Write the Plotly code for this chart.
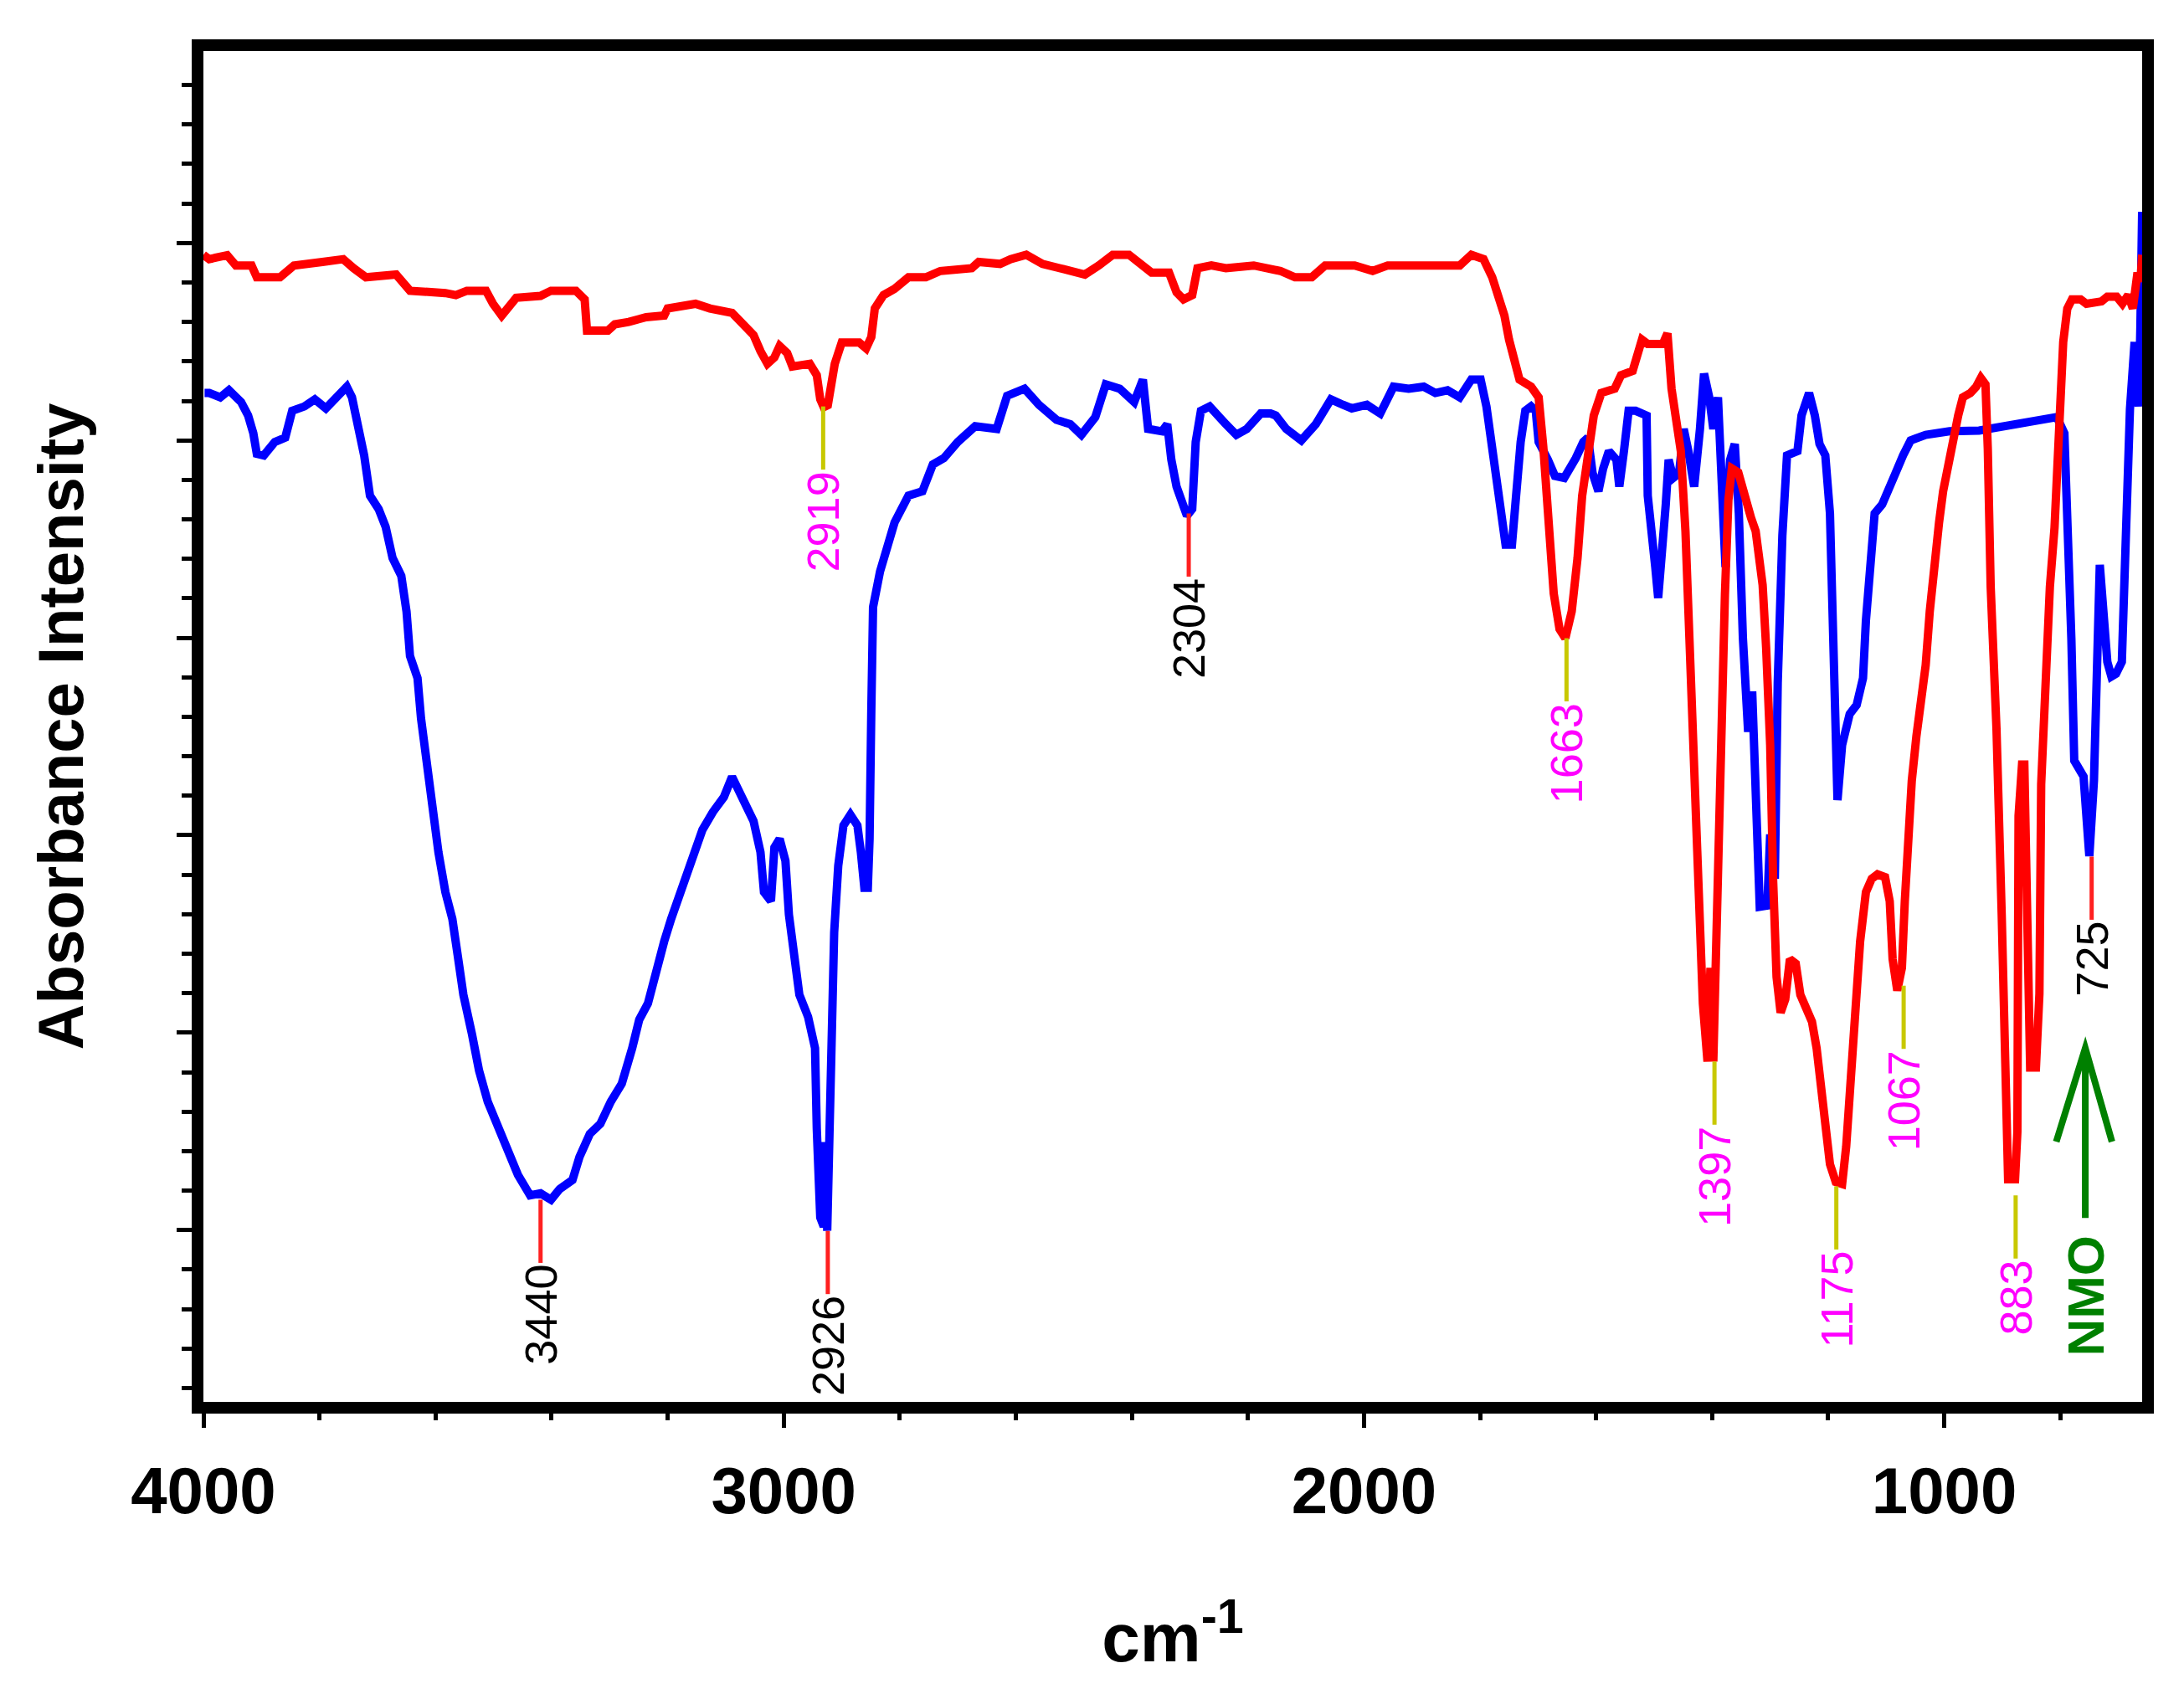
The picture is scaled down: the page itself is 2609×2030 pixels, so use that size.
"""FTIR absorbance spectra (two samples) with peak labels, drawn with Plotly."""

import plotly.graph_objects as go

# ---- spectrum data (wavenumber cm-1, intensity a.u.) ----
red_wn = [
    4000, 3990, 3959, 3944, 3917, 3908, 3868, 3844, 3795, 3759, 3741, 3720, 3668, 3644,
    3583, 3565, 3546, 3513, 3501, 3486, 3461, 3419, 3401, 3358, 3343, 3339, 3303, 3291,
    3267, 3237, 3206, 3200, 3152, 3127, 3089, 3070, 3052, 3040, 3028, 3016, 3007, 2994,
    2985, 2955, 2943, 2937, 2931, 2924, 2919, 2912, 2900, 2870, 2858, 2849, 2843, 2828,
    2809, 2785, 2755, 2730, 2676, 2664, 2627, 2609, 2582, 2554, 2524, 2481, 2457, 2433,
    2405, 2384, 2366, 2336, 2323, 2311, 2296, 2287, 2263, 2238, 2190, 2144, 2119, 2090,
    2067, 2016, 1985, 1959, 1918, 1835, 1815, 1794, 1779, 1768, 1758, 1750, 1740, 1732,
    1712, 1699, 1691, 1683, 1673, 1663, 1653, 1642, 1632, 1624, 1614, 1604, 1591, 1568,
    1557, 1537, 1521, 1511, 1485, 1477, 1470, 1462, 1454, 1446, 1439, 1431, 1423, 1416,
    1408, 1403, 1398, 1392, 1385, 1378, 1372, 1366, 1355, 1343, 1333, 1325, 1318, 1313,
    1307, 1300, 1295, 1289, 1282, 1274, 1266, 1256, 1248, 1238, 1228, 1220, 1212, 1205,
    1197, 1187, 1176, 1169, 1161, 1153, 1145, 1135, 1125, 1115, 1102, 1094, 1089, 1081,
    1073, 1068, 1063, 1056, 1048, 1040, 1032, 1025, 1017, 1009, 1002, 994, 986, 976,
    968, 955, 945, 937, 929, 925, 920, 910, 901, 894, 890, 878, 874, 872, 866,
    862, 856, 852, 842, 836, 833, 825, 818, 810, 801, 795, 788, 780, 765,
    755, 729, 719, 703, 693, 683, 675, 667, 662, 659,
]
red_abs = [
    29.21, 29.1, 29.2, 28.94, 28.94, 28.64, 28.64, 28.94, 29.03, 29.1, 28.87, 28.64, 28.71, 28.3,
    28.24, 28.19, 28.3, 28.3, 27.97, 27.67, 28.12, 28.17, 28.3, 28.3, 28.08, 27.29, 27.29, 27.45,
    27.51, 27.63, 27.67, 27.85, 27.97, 27.85, 27.74, 27.45, 27.18, 26.77, 26.45, 26.61, 26.9, 26.72,
    26.38, 26.45, 26.16, 25.55, 25.35, 25.4, 25.9, 26.45, 26.99, 26.99, 26.84, 27.13, 27.85, 28.19,
    28.35, 28.64, 28.64, 28.8, 28.87, 29.03, 28.98, 29.1, 29.21, 28.98, 28.87, 28.71, 28.94, 29.21,
    29.21, 28.94, 28.76, 28.76, 28.26, 28.08, 28.19, 28.87, 28.94, 28.87, 28.94, 28.8, 28.64, 28.64,
    28.94, 28.94, 28.8, 28.94, 28.94, 28.94, 29.21, 29.1, 28.64, 28.19, 27.67, 27.06, 26.5, 26.05,
    25.87, 25.6, 24.35, 22.43, 20.63, 19.73, 19.5, 20.18, 21.53, 23.11, 24.24, 25.14, 25.71, 25.82,
    26.16, 26.27, 27.06, 26.95, 26.95, 27.22, 25.82, 24.92, 24.24, 22.21, 19.5, 17.02, 13.86, 10.25,
    8.78, 11.15, 8.78, 12.95, 16.34, 20.6, 23.0, 23.8, 23.7, 23.0, 22.55, 22.21, 21.53, 20.85,
    19.27, 16.79, 13.41, 10.92, 10.02, 10.36, 11.37, 11.26, 10.47, 10.13, 9.79, 9.12, 8.21, 7.08,
    6.18, 5.73, 5.68, 6.63, 8.21, 10.02, 11.82, 13.07, 13.41, 13.52, 13.45, 12.84, 11.37, 10.58,
    11.15, 12.84, 14.53, 15.89, 17.02, 17.92, 18.82, 20.18, 21.53, 22.43, 23.22, 23.9, 24.58, 25.14,
    25.6, 25.71, 25.87, 26.09, 25.93, 24.3, 20.8, 17.2, 12.5, 7.0, 5.8, 5.8, 7.0, 15.0, 16.3,
    16.3, 10.5, 8.63, 8.63, 10.5, 15.8, 19.2, 20.8, 22.3, 24.9, 27.0, 27.85, 28.08, 28.08,
    27.97, 28.03, 28.15, 28.15, 27.97, 28.19, 27.85, 28.76, 28.53, 29.21,
]

blue_wn = [
    3998, 3990, 3971, 3956, 3935, 3923, 3914, 3908, 3896, 3877, 3859, 3847, 3826, 3808,
    3789, 3771, 3753, 3744, 3735, 3723, 3713, 3698, 3686, 3674, 3659, 3650, 3644, 3631,
    3625, 3616, 3607, 3595, 3583, 3571, 3562, 3552, 3537, 3525, 3510, 3492, 3474, 3458,
    3437, 3419, 3401, 3386, 3364, 3352, 3334, 3316, 3298, 3279, 3261, 3249, 3234, 3219,
    3206, 3194, 3176, 3158, 3140, 3122, 3103, 3089, 3070, 3052, 3040, 3034, 3022, 3016,
    3007, 2997, 2991, 2982, 2973, 2958, 2946, 2943, 2937, 2931, 2928, 2925, 2919, 2913,
    2906, 2897, 2885, 2873, 2867, 2861, 2855, 2852, 2849, 2846, 2834, 2821, 2809, 2785,
    2761, 2743, 2724, 2700, 2670, 2633, 2615, 2585, 2560, 2530, 2506, 2487, 2463, 2445,
    2421, 2396, 2381, 2372, 2348, 2339, 2332, 2323, 2311, 2305, 2296, 2290, 2281, 2266,
    2238, 2220, 2202, 2178, 2161, 2152, 2134, 2108, 2083, 2057, 2036, 2021, 1995, 1972,
    1949, 1923, 1897, 1877, 1856, 1835, 1815, 1799, 1789, 1781, 1771, 1763, 1756, 1745,
    1738, 1730, 1722, 1712, 1704, 1699, 1683, 1671, 1655, 1645, 1635, 1622, 1614, 1606,
    1596, 1588, 1578, 1565, 1560, 1552, 1544, 1532, 1513, 1511, 1506, 1498, 1493, 1485,
    1480, 1475, 1467, 1457, 1449, 1441, 1431, 1421, 1414, 1405, 1398, 1390, 1382, 1377,
    1374, 1369, 1361, 1354, 1347, 1338, 1331, 1325, 1318, 1305, 1300, 1292, 1287, 1279,
    1271, 1253, 1246, 1233, 1223, 1215, 1205, 1197, 1191, 1184, 1176, 1163, 1151, 1140,
    1135, 1127, 1120, 1107, 1097, 1084, 1071, 1058, 1032, 991, 940, 894, 842, 806,
    793, 788, 781, 776, 768, 760, 750, 742, 732, 726, 719, 712, 704, 694,
    686, 680, 672, 665, 662, 659,
]
blue_abs = [
    25.71, 25.71, 25.6, 25.78, 25.48, 25.14, 24.69, 24.17, 24.13, 24.47, 24.58, 25.26, 25.37, 25.55,
    25.32, 25.6, 25.87, 25.6, 25.03, 24.13, 23.11, 22.77, 22.32, 21.53, 21.08, 20.18, 19.05, 18.49,
    17.47, 16.34, 15.21, 14.08, 13.07, 12.39, 11.49, 10.47, 9.46, 8.55, 7.76, 7.08, 6.41, 5.91,
    5.39, 5.44, 5.28, 5.55, 5.78, 6.36, 6.95, 7.2, 7.76, 8.22, 9.12, 9.84, 10.25, 11.15,
    11.82, 12.39, 13.18, 13.97, 14.65, 15.1, 15.48, 15.99, 15.44, 14.87, 14.08, 13.07, 12.84, 14.2,
    14.42, 13.86, 12.5, 11.37, 10.47, 9.91, 9.12, 7.08, 4.83, 4.6, 6.74, 4.49, 8.21, 12.05,
    13.74, 14.76, 15.03, 14.76, 14.08, 13.18, 13.18, 14.42, 17.7, 20.29, 21.19, 21.87, 22.43, 23.11,
    23.22, 23.9, 24.06, 24.47, 24.87, 24.8, 25.64, 25.82, 25.41, 25.03, 24.92, 24.65, 25.1, 25.93,
    25.82, 25.48, 26.05, 24.8, 24.74, 24.92, 24.02, 23.34, 22.77, 22.6, 22.77, 24.47, 25.26, 25.37,
    24.92, 24.65, 24.8, 25.19, 25.19, 25.14, 24.8, 24.51, 24.92, 25.55, 25.41, 25.32, 25.41, 25.19,
    25.87, 25.82, 25.87, 25.71, 25.78, 25.6, 26.05, 26.05, 25.37, 24.47, 23.56, 22.66, 21.87, 21.87,
    23.34, 24.47, 25.26, 25.37, 25.26, 24.47, 24.02, 23.61, 23.56, 23.79, 24.06, 24.47, 24.58, 23.68,
    23.22, 23.79, 24.24, 24.02, 23.34, 24.24, 25.26, 25.26, 25.14, 23.11, 22.21, 21.3, 20.52, 21.76,
    22.88, 24.02, 23.56, 23.68, 24.8, 24.24, 23.34, 24.8, 26.2, 25.6, 24.8, 25.6, 22.88, 21.3,
    22.89, 24.02, 24.42, 22.66, 19.5, 17.13, 18.15, 14.99, 12.7, 12.73, 14.53, 13.41, 18.37, 22.1,
    24.13, 24.24, 25.14, 25.71, 25.14, 24.42, 24.13, 22.66, 19.4, 15.4, 16.8, 17.58, 17.81, 18.49,
    19.95, 21.64, 22.66, 22.89, 23.29, 23.68, 24.13, 24.51, 24.65, 24.74, 24.76, 24.87, 24.99, 25.1,
    24.69, 22.7, 19.5, 16.4, 16.2, 16.0, 13.98, 15.9, 21.36, 20.2, 18.9, 18.53, 18.6, 18.9,
    22.9, 25.3, 27.0, 25.37, 27.4, 30.3,
]

# peak labels: text, position on the axis, intensity where the stem starts
blue_peak_text = ["3440", "2926", "2304", "725"]
blue_peak_wn = [3419, 2924, 2302, 746]
blue_peak_abs = [5.28, 4.49, 22.66, 13.97]

red_peak_text = ["2919", "1663", "1397", "1175", "1067", "883"]
red_peak_wn = [2932, 1651, 1396, 1186, 1070, 877]
red_peak_abs = [25.37, 19.5, 8.78, 5.62, 10.7, 5.39]

nmo_wn = 757
nmo_abs = 9.12

FONT = "Liberation Sans, Arial, sans-serif"
STEM = 1.6

fig = go.Figure()

fig.add_trace(go.Scatter(
    x=blue_wn, y=blue_abs, mode="lines", name="blue",
    line=dict(color="#0000FF", width=10),
))
fig.add_trace(go.Scatter(
    x=red_wn, y=red_abs, mode="lines", name="red",
    line=dict(color="#FF0000", width=10),
))


def add_peak_labels(texts, wns, ys, stem_color, text_color):
    for t, w, y in zip(texts, wns, ys):
        fig.add_shape(type="line", x0=w, x1=w, y0=y, y1=y - STEM,
                      line=dict(color=stem_color, width=5))
        fig.add_annotation(x=w, y=y - STEM, text=t, showarrow=False,
                           textangle=-90, xanchor="center", yanchor="top",
                           font=dict(family=FONT, size=54, color=text_color))


add_peak_labels(blue_peak_text, blue_peak_wn, blue_peak_abs, "#FF2020", "black")
add_peak_labels(red_peak_text, red_peak_wn, red_peak_abs, "#C8C800", "#FF00FF")

# NMO arrow and label
fig.add_shape(type="path",
              path=(f"M {nmo_wn},{nmo_abs - 4.3} L {nmo_wn},{nmo_abs} "
                    f"M {nmo_wn + 50},{nmo_abs - 2.37} L {nmo_wn},{nmo_abs} "
                    f"L {nmo_wn - 46},{nmo_abs - 2.37}"),
              line=dict(color="#008000", width=8))
fig.add_annotation(x=nmo_wn, y=nmo_abs - 4.7, text="<b>NMO</b>", showarrow=False,
                   textangle=-90, xanchor="center", yanchor="top",
                   font=dict(family=FONT, size=62, color="#008000"))

fig.update_layout(
    width=2609, height=2030,
    margin=dict(l=235, r=58, t=53, b=363),
    paper_bgcolor="white", plot_bgcolor="white",
    showlegend=False,
    xaxis=dict(
        range=[4000, 659],
        showgrid=False, zeroline=False,
        showline=True, linecolor="black", linewidth=14, mirror=True,
        ticks="outside", ticklen=17, tickwidth=5, tickcolor="black",
        tick0=0, dtick=1000,
        tickfont=dict(family=FONT, size=78, color="black", weight="bold"),
        ticklabelstandoff=8,
        minor=dict(ticks="outside", tick0=0, dtick=200, ticklen=8,
                   tickwidth=5, tickcolor="black"),
        title=dict(text="cm<sup>-1</sup>", standoff=110,
                   font=dict(family=FONT, size=82, color="black", weight="bold")),
    ),
    yaxis=dict(
        range=[0.16, 34.37],
        showgrid=False, zeroline=False,
        showline=True, linecolor="black", linewidth=14, mirror=True,
        ticks="outside", ticklen=18, tickwidth=5, tickcolor="black",
        tick0=4.51, dtick=5, showticklabels=False,
        minor=dict(ticks="outside", tick0=0.51, dtick=1, ticklen=12,
                   tickwidth=5, tickcolor="black"),
        title=dict(text="Absorbance Intensity", standoff=92,
                   font=dict(family=FONT, size=76, color="black", weight="bold")),
    ),
)

fig.write_html("out.html")
